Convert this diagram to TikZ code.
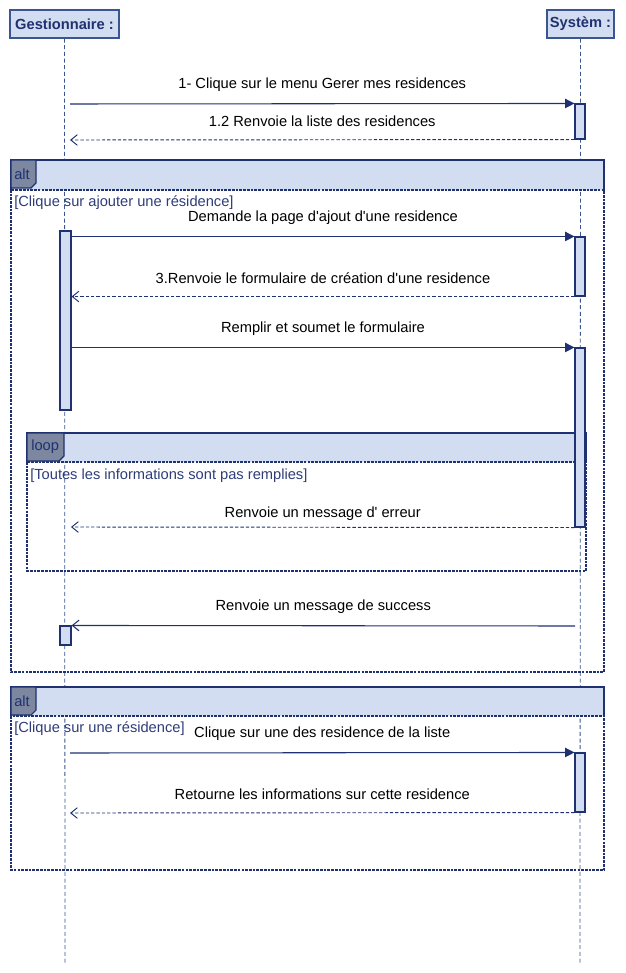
\documentclass[tikz,border=0pt]{standalone}
\usepackage{fontspec}
\setmainfont{Liberation Sans}
\usetikzlibrary{positioning,arrows.meta,fit}
\definecolor{navy}{HTML}{1F3170}
\definecolor{lifec}{HTML}{3A5590}
\definecolor{bandc}{HTML}{D3DDF1}
\definecolor{tabc}{HTML}{7D879F}
\definecolor{guardc}{HTML}{2E3D78}
\tikzset{
  actor/.style={draw=lifec, fill=bandc, line width=0.8pt, inner sep=0pt, minimum height=21pt, font=\fontsize{11}{13}\selectfont\bfseries, text=navy},
  life/.style ={draw=lifec, line width=0.6pt, dash pattern=on 3pt off 2pt},
  act/.style  ={draw=navy, fill=bandc, line width=0.8pt, inner sep=0pt},
  call/.style ={draw=navy, line width=0.8pt, -{Triangle[length=7pt,width=7pt]}},
  reply/.style={draw=navy, line width=0.7pt, dash pattern=on 2.5pt off 1.5pt, -{Straight Barb[length=5pt,width=8pt]}},
  back/.style ={draw=navy, line width=0.8pt, -{Straight Barb[length=5pt,width=8pt]}},
  lbl/.style  ={midway, yshift=14pt, font=\fontsize{11}{13}\selectfont, text=black},
  guard/.style={anchor=west, inner sep=0pt, font=\fontsize{11}{13}\selectfont, text=guardc},
  band/.style ={fill=bandc},
  ftop/.style ={draw=navy, line width=1pt},
  fbody/.style={draw=navy, line width=1.2pt, dash pattern=on 2pt off 0.8pt},
  tab/.style  ={fill=tabc, draw=navy, line width=0.8pt},
  tabtxt/.style={anchor=west, inner sep=0pt, font=\fontsize{11}{13}\selectfont, text=navy},
}
\begin{document}
\begin{tikzpicture}[x=0.75pt,y=-0.75pt]
\useasboundingbox (0,0) rectangle (625,973);

% actors and lifelines
\node[actor, minimum width=81.75pt] (gest) at (64.5,24) {Gestionnaire :};
\node[actor, minimum width=50.25pt] (sys) at (580.5,24) {Systèm :};
\coordinate (gEnd) at (65,963);
\coordinate (sEnd) at (580,963);
\draw[life] (gest.south) -- (gEnd);
\draw[life] (sys.south) -- (sEnd);

% opening the list
\node[act, fit={(575,104) (585,139)}] (sa1) {};
\coordinate (g1) at (70,104);
\coordinate (g2) at (70,140);
\draw[call] (g1) -- node[lbl] {1- Clique sur le menu Gerer mes residences} (sa1.north west);
\draw[reply] (sa1.south west) -- node[lbl] {1.2 Renvoie la liste des residences} (g2);

% alt : add a residence
\fill[band] (11,160) rectangle (604,190);
\draw[ftop] (11,190) -- (11,160) -- (604,160) -- (604,190);
\draw[fbody] (11,190) -- (11,672) -- (604,672) -- (604,190) -- cycle;
\draw[tab] (11,160) -- (36,160) -- (36,183) -- (31,188) -- (11,188) -- cycle;
\node[tabtxt] (altA) at (14,174) {alt};
\node[guard] (grdA) at (14,203) {[Clique sur ajouter une résidence]};

\node[act, fit={(60,231) (71,410)}] (ga1) {};
\node[act, fit={(575,237) (585,296)}] (sa2) {};
\draw[call] (ga1.east |- sa2.north) -- node[lbl] {Demande la page d\textquotesingle ajout d\textquotesingle une residence} (sa2.north west);
\draw[reply] (sa2.south west) -- node[lbl] {3.Renvoie le formulaire de création d\textquotesingle une residence} (ga1.east |- sa2.south);

% loop : missing fields
\fill[band] (27,433) rectangle (586,462);
\draw[ftop] (27,462) -- (27,433) -- (586,433) -- (586,462);
\draw[fbody] (27,462) -- (27,571) -- (586,571) -- (586,462) -- cycle;
\draw[tab] (27,433) -- (64,433) -- (64,456) -- (59,461) -- (27,461) -- cycle;
\node[tabtxt] (loopA) at (31,447) {loop};
\node[guard] (grdB) at (30,476) {[Toutes les informations sont pas remplies]};

\node[act, fit={(575,348) (585,527)}] (sa3) {};
\draw[call] (ga1.east |- sa3.north) -- node[lbl] {Remplir et soumet le formulaire} (sa3.north west);
\coordinate (g3) at (71,527);
\draw[reply] (sa3.south west) -- node[lbl, yshift=-4pt] {Renvoie un message d\textquotesingle\ erreur} (g3);

% success
\node[act, fit={(60,626) (71,645)}] (ga2) {};
\coordinate (s4) at (575,626);
\draw[back] (s4) -- node[lbl] {Renvoie un message de success} (ga2.north east);

% alt : consult a residence
\fill[band] (11,687) rectangle (604,716);
\draw[ftop] (11,716) -- (11,687) -- (604,687) -- (604,716);
\draw[fbody] (11,716) -- (11,870) -- (604,870) -- (604,716) -- cycle;
\draw[tab] (11,687) -- (36,687) -- (36,710) -- (31,715) -- (11,715) -- cycle;
\node[tabtxt] (altB) at (14,701) {alt};
\node[guard] (grdC) at (14,729) {[Clique sur une résidence]};

\node[act, fit={(575,753) (585,812)}] (sa4) {};
\coordinate (g5) at (70,753);
\coordinate (g6) at (70,813);
\draw[call] (g5) -- node[lbl] {Clique sur une des residence de la liste} (sa4.north west);
\draw[reply] (sa4.south west) -- node[lbl] {Retourne les informations sur cette residence} (g6);
\end{tikzpicture}
\end{document}
